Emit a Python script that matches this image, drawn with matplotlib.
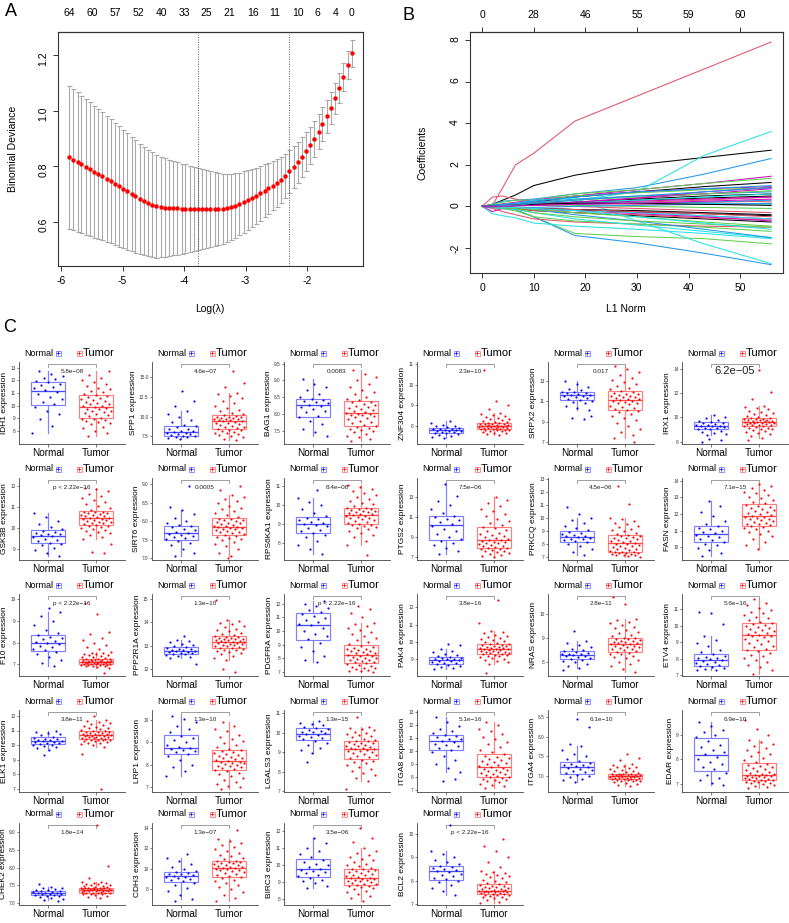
import numpy as np
import matplotlib
matplotlib.use("Agg")
import matplotlib.pyplot as plt
from matplotlib.transforms import blended_transform_factory

plt.rcParams['font.family'] = ['Liberation Sans', 'DejaVu Sans']
plt.rcParams['axes.unicode_minus'] = False

# ---------------- Panel A : cross-validation curve ----------------
A_LOG_LAMBDA = [-5.87, -5.80, -5.73, -5.67, -5.60, -5.53, -5.46, -5.40, -5.33, -5.26,
                -5.19, -5.13, -5.06, -4.99, -4.92, -4.85, -4.79, -4.72, -4.65, -4.58,
                -4.52, -4.45, -4.38, -4.31, -4.25, -4.18, -4.11, -4.04, -3.98, -3.91,
                -3.84, -3.77, -3.71, -3.64, -3.57, -3.50, -3.44, -3.37, -3.30, -3.23,
                -3.17, -3.10, -3.03, -2.96, -2.90, -2.83, -2.76, -2.69, -2.63, -2.56,
                -2.49, -2.42, -2.36, -2.29, -2.22, -2.15, -2.08, -2.02, -1.95, -1.88,
                -1.81, -1.75, -1.68, -1.61, -1.54, -1.48, -1.41, -1.34, -1.27]
A_CVM = [0.832, 0.824, 0.815, 0.807, 0.798, 0.790, 0.781, 0.773, 0.764, 0.755,
         0.746, 0.737, 0.728, 0.719, 0.710, 0.701, 0.692, 0.683, 0.675, 0.668,
         0.662, 0.657, 0.654, 0.652, 0.651, 0.650, 0.649, 0.648, 0.648, 0.647,
         0.647, 0.646, 0.646, 0.646, 0.646, 0.646, 0.647, 0.648, 0.650, 0.654,
         0.659, 0.665, 0.672, 0.679, 0.687, 0.695, 0.703, 0.712, 0.721, 0.731,
         0.741, 0.752, 0.765, 0.782, 0.798, 0.815, 0.834, 0.854, 0.876, 0.899,
         0.924, 0.951, 0.980, 1.011, 1.044, 1.081, 1.121, 1.163, 1.206]
A_SE = [0.258, 0.254, 0.251, 0.247, 0.244, 0.240, 0.237, 0.233, 0.230, 0.226,
        0.223, 0.219, 0.216, 0.212, 0.209, 0.205, 0.202, 0.198, 0.195, 0.191,
        0.188, 0.185, 0.181, 0.177, 0.173, 0.170, 0.166, 0.162, 0.159, 0.155,
        0.151, 0.148, 0.144, 0.140, 0.136, 0.133, 0.129, 0.126, 0.122, 0.119,
        0.116, 0.113, 0.110, 0.107, 0.104, 0.101, 0.098, 0.095, 0.092, 0.089,
        0.086, 0.083, 0.080, 0.077, 0.075, 0.073, 0.071, 0.069, 0.067, 0.065,
        0.063, 0.061, 0.059, 0.057, 0.055, 0.053, 0.051, 0.050, 0.048]
A_VLINES = [-3.77, -2.29]
A_TOP_X = [-5.87, -5.50, -5.12, -4.75, -4.37, -4.00, -3.64, -3.27, -2.88, -2.52, -2.15, -1.84, -1.54, -1.27]
A_TOP_N = [64, 60, 57, 52, 40, 33, 25, 21, 16, 11, 10, 6, 4, 0]

# ---------------- Panel B : coefficient paths ----------------
B_L1 = [0, 2, 4, 6.5, 10, 18, 30, 43, 56]
B_COEF = [
    [0, 0.1, 0.3, 0.55, 1.0, 1.5, 2.0, 2.35, 2.7],
    [0, 0.05, 0.9, 2.0, 2.55, 4.1, 5.3, 6.6, 7.9],
    [0, -0.05, -0.1, -0.2, -0.5, -1.3, -1.45, -1.55, -1.8],
    [0, 0.1, 0.25, 0.3, 0.35, 0.6, 0.9, 1.55, 2.3],
    [0, 0.05, 0.08, 0.1, 0.1, 0.3, 0.7, 2.45, 3.6],
    [0, -0.25, -0.1, 0.05, 0.2, 0.5, 0.8, 1.1, 1.45],
    [0, 0.05, 0.08, 0.12, 0.2, 0.45, 0.7, 0.95, 1.15],
    [0, 0.45, 0.5, 0.35, 0.2, 0.15, 0.1, 0.1, 0.15],
    [0, 0.1, 0.2, 0.3, 0.3, 0.6, 0.8, 1.1, 1.35],
    [0, -0.05, -0.08, -0.15, -0.5, -1.4, -1.75, -2.25, -2.8],
    [0, -0.35, -0.45, -0.55, -0.8, -0.95, -1.1, -1.3, -1.55],
    [0, 0.05, 0.12, 0.2, 0.3, 0.5, 0.7, 0.85, 0.95],
    [0, -0.05, -0.08, -0.1, -0.2, -0.3, -0.45, -0.6, -0.75],
    [0, -0.1, -0.25, -0.4, -0.6, -0.75, -0.85, -0.95, -1.0],
    [0, 0.05, 0.08, 0.12, 0.25, 0.5, 0.65, 0.8, 0.9],
    [0, 0.05, 0.08, 0.12, 0.2, 0.35, 0.5, 0.6, 0.7],
    [0, 0.05, 0.1, 0.15, 0.3, 0.4, -0.7, -1.8, -2.75],
    [0, -0.05, -0.07, -0.1, -0.15, -0.2, -0.3, -0.45, -0.6],
    [0, 0.02, 0.04, 0.05, 0.1, 0.2, 0.35, 0.5, 0.6],
    [0, 0.02, 0.04, 0.05, 0.1, 0.15, 0.2, 0.3, 0.45],
    [0, -0.05, -0.12, -0.2, -0.5, -0.7, -0.85, -1.0, -1.2],
    [0, 0.05, 0.1, 0.15, 0.25, 0.45, 0.7, 0.85, 1.0],
    [0, -0.05, -0.1, -0.15, -0.3, -0.6, -0.9, -1.2, -1.5],
    [0, 0.02, 0.04, 0.05, 0.1, 0.2, 0.4, 0.6, 0.85],
    [0, -0.02, -0.04, -0.05, -0.1, -0.15, -0.2, -0.3, -0.4],
    [0, -0.02, -0.06, -0.1, -0.2, -0.3, -0.4, -0.55, -0.65],
    [0, 0.02, 0.04, 0.05, 0.15, 0.3, 0.45, 0.6, 0.75],
    [0, -0.02, -0.04, -0.05, -0.15, -0.4, -0.7, -1.1, -1.5],
    [0, 0.02, 0.04, 0.05, 0.1, 0.15, 0.2, 0.15, 0.1],
    [0, -0.02, -0.04, -0.05, -0.1, -0.2, -0.35, -0.5, -0.7],
    [0, 0.02, 0.04, 0.05, 0.1, 0.2, 0.3, 0.4, 0.5],
    [0, 0.02, 0.04, 0.05, 0.1, 0.12, 0.15, 0.2, 0.25],
    [0, -0.02, -0.06, -0.1, -0.3, -0.5, -0.7, -0.85, -1.0],
    [0, 0.02, 0.02, 0.03, 0.05, 0.1, 0.15, 0.2, 0.3],
    [0, -0.02, -0.04, -0.05, -0.1, -0.2, -0.3, -0.45, -0.6],
    [0, 0.02, 0.04, 0.05, 0.1, 0.15, 0.25, 0.35, 0.45],
    [0, -0.02, -0.04, -0.05, -0.1, -0.15, -0.25, -0.35, -0.45],
    [0, 0.02, 0.04, 0.05, 0.05, 0.0, -0.1, -0.2, -0.3],
    [0, 0.02, 0.04, 0.05, 0.1, 0.05, 0.0, -0.05, -0.1],
    [0, -0.02, -0.04, -0.05, -0.05, 0.0, 0.05, 0.1, 0.15],
    [0, 0.02, 0.04, 0.05, 0.1, 0.2, 0.3, 0.45, 0.6],
    [0, 0.02, 0.04, 0.05, 0.1, 0.2, 0.4, 0.7, 0.9],
    [0, 0.02, 0.04, 0.05, 0.1, 0.15, 0.15, 0.1, 0.05],
    [0, -0.02, -0.04, -0.05, -0.1, -0.15, -0.25, -0.35, -0.5],
    [0, 0.0, -0.02, -0.05, -0.15, -0.3, -0.5, -0.75, -0.95],
    [0, 0.02, 0.04, 0.05, 0.15, 0.3, 0.5, 0.7, 0.9],
    [0, -0.02, -0.04, -0.05, -0.1, -0.2, -0.5, -0.8, -1.1],
    [0, 0.0, 0.01, 0.02, 0.05, 0.1, 0.15, 0.25, 0.35],
]
B_TOP_X = [0, 10, 20, 30, 40, 50]
B_TOP_N = [0, 28, 46, 55, 59, 60]

# ---------------- Panel C : expression box plots ----------------
GENES = ["IDH1", "SPP1", "BAG1", "ZNF304", "SRPX2", "IRX1",
         "GSK3B", "SIRT6", "RPS6KA1", "PTGS2", "PRKCQ", "FASN",
         "F10", "PPP2R1A", "PDGFRA", "PAK4", "NRAS", "ETV4",
         "ELK1", "LRP1", "LGALS3", "ITGA8", "ITGA4", "EDAR",
         "CHEK2", "CDH3", "BIRC3", "BCL2"]
GROUPS = ["Normal", "Tumor"]
P_LABELS = ["5.8e\u221208", "4.6e\u221207", "0.0083", "2.3e\u221210", "0.017", "6.2e\u221205",
            "p < 2.22e\u221216", "0.0005", "8.4e\u221208", "7.5e\u221206", "4.5e\u221206", "7.1e\u221215",
            "p < 2.22e\u221216", "1.3e\u221210", "p < 2.22e\u221216", "3.8e\u221216", "2.8e\u221211", "5.6e\u221216",
            "3.8e\u221211", "1.3e\u221210", "1.3e\u221215", "5.1e\u221216", "6.1e\u221210", "6.9e\u221210",
            "1.8e\u221214", "1.3e\u221207", "3.5e\u221206", "p < 2.22e\u221216"]
# (whisker low, Q1, median, Q3, whisker high)
NORMAL_BOX = [(7.8, 10.05, 11.15, 11.9, 12.7), (7.2, 7.6, 8.1, 8.85, 10.7), (7.35, 7.92, 8.27, 8.45, 9.05),
              (7.4, 7.65, 7.76, 7.89, 8.2), (10.2, 11.1, 11.6, 11.9, 12.95), (8.5, 9.04, 9.3, 9.59, 10.2),
              (8.65, 9.25, 9.62, 9.89, 10.7), (7.05, 7.5, 7.67, 7.88, 8.3), (7.4, 8.52, 9.0, 9.36, 10.4),
              (7.3, 8.72, 10.2, 11.15, 14.3), (7.1, 8.16, 8.55, 8.95, 10.0), (9.45, 10.28, 10.8, 11.3, 12.8),
              (6.95, 7.62, 8.0, 8.36, 9.4), (12.45, 12.66, 12.78, 12.94, 13.25), (7.7, 9.33, 10.45, 11.28, 12.2),
              (8.45, 8.75, 8.98, 9.14, 9.6), (7.75, 8.11, 8.29, 8.44, 8.85), (7.3, 7.58, 7.95, 8.3, 9.4),
              (9.7, 10.06, 10.27, 10.53, 11.0), (7.5, 8.46, 8.77, 9.34, 10.2), (8.95, 9.64, 9.96, 10.22, 10.6),
              (8.4, 10.05, 10.75, 11.25, 12.6), (6.85, 7.05, 7.22, 7.35, 7.75), (6.95, 7.55, 8.16, 8.85, 9.5),
              (7.1, 7.22, 7.28, 7.35, 7.45), (7.0, 8.7, 9.27, 9.7, 11.0), (8.65, 9.32, 9.76, 10.4, 11.6),
              (7.4, 8.04, 8.4, 8.64, 9.25)]
TUMOR_BOX = [(7.55, 9.0, 9.9, 10.8, 12.7), (7.0, 8.4, 9.5, 10.2, 13.0), (7.2, 7.65, 8.02, 8.37, 9.3),
             (7.55, 7.82, 7.97, 8.14, 8.6), (7.4, 10.15, 11.17, 11.97, 14.5), (8.3, 9.26, 9.6, 9.92, 10.9),
             (9.45, 10.13, 10.47, 10.8, 11.9), (7.05, 7.64, 7.85, 8.08, 8.7), (7.9, 9.0, 9.5, 9.88, 11.1),
             (7.0, 7.92, 8.7, 10.05, 13.0), (7.0, 7.37, 8.03, 8.66, 10.0), (9.9, 11.28, 11.85, 12.6, 13.8),
             (6.85, 7.02, 7.12, 7.25, 7.55), (12.4, 12.9, 13.17, 13.4, 14.1), (7.0, 7.65, 8.25, 8.95, 10.6),
             (8.75, 9.3, 9.6, 9.9, 10.65), (7.55, 8.4, 8.73, 9.01, 9.8), (7.1, 8.55, 9.45, 10.17, 11.6),
             (9.9, 10.39, 10.67, 10.97, 11.7), (6.9, 7.77, 8.17, 8.66, 9.9), (7.5, 8.65, 9.17, 9.6, 10.3),
             (7.2, 8.05, 8.77, 9.8, 12.2), (6.75, 6.92, 7.0, 7.06, 7.3), (6.85, 7.17, 7.37, 7.85, 8.8),
             (7.15, 7.3, 7.38, 7.43, 7.6), (6.8, 9.2, 10.1, 10.77, 12.9), (7.9, 8.84, 9.26, 9.8, 11.0),
             (7.05, 7.43, 7.57, 7.85, 8.4)]
NORMAL_PTS = [
    [7.8, 8.4, 8.9, 9.3, 9.6, 9.9, 10.1, 10.3, 10.5, 10.7, 10.9, 11.1, 11.2, 11.35, 11.5, 11.6, 11.7, 11.85, 11.95, 12.1, 12.2, 12.35, 12.5, 12.7],
    [7.2, 7.3, 7.4, 7.45, 7.5, 7.55, 7.65, 7.75, 7.85, 7.9, 8.0, 8.05, 8.15, 8.25, 8.4, 8.5, 8.65, 8.8, 9.0, 9.3, 9.6, 9.9, 10.3, 10.7, 11.4, 12.0, 13.2],
    [7.35, 7.45, 7.55, 7.7, 7.8, 7.9, 7.95, 8.05, 8.1, 8.15, 8.2, 8.25, 8.28, 8.32, 8.35, 8.38, 8.42, 8.44, 8.5, 8.6, 8.7, 8.8, 8.9, 9.05],
    [7.4, 7.45, 7.5, 7.55, 7.6, 7.63, 7.66, 7.68, 7.7, 7.72, 7.74, 7.75, 7.77, 7.79, 7.81, 7.83, 7.85, 7.88, 7.92, 7.96, 8.0, 8.05, 8.12, 8.2],
    [10.2, 10.4, 10.6, 10.8, 10.95, 11.05, 11.15, 11.25, 11.35, 11.45, 11.5, 11.55, 11.62, 11.67, 11.72, 11.78, 11.83, 11.88, 11.95, 12.1, 12.25, 12.45, 12.7, 12.95, 9.3, 9.4, 9.6],
    [8.5, 8.6, 8.7, 8.8, 8.9, 9.0, 9.06, 9.1, 9.15, 9.2, 9.25, 9.28, 9.32, 9.36, 9.4, 9.45, 9.5, 9.55, 9.62, 9.7, 9.8, 9.9, 10.05, 10.2, 8.0, 8.1, 8.2],
    [8.65, 8.8, 8.95, 9.05, 9.15, 9.22, 9.28, 9.35, 9.42, 9.48, 9.55, 9.6, 9.64, 9.68, 9.72, 9.77, 9.82, 9.87, 9.95, 10.05, 10.2, 10.35, 10.5, 10.7],
    [7.05, 7.15, 7.25, 7.35, 7.42, 7.47, 7.52, 7.55, 7.58, 7.61, 7.63, 7.66, 7.69, 7.72, 7.75, 7.79, 7.83, 7.86, 7.9, 7.95, 8.0, 8.1, 8.2, 8.3, 8.38, 8.95],
    [7.4, 7.7, 7.9, 8.1, 8.3, 8.45, 8.55, 8.62, 8.7, 8.8, 8.88, 8.95, 9.03, 9.08, 9.13, 9.2, 9.27, 9.33, 9.45, 9.6, 9.8, 10.0, 10.2, 10.4, 10.8],
    [7.3, 7.6, 7.9, 8.2, 8.45, 8.65, 8.8, 9.0, 9.3, 9.6, 9.85, 10.1, 10.3, 10.5, 10.7, 10.85, 11.0, 11.1, 11.4, 11.8, 12.2, 12.6, 13.1, 14.3],
    [7.1, 7.4, 7.6, 7.8, 7.95, 8.1, 8.2, 8.27, 8.33, 8.4, 8.45, 8.5, 8.58, 8.63, 8.68, 8.75, 8.82, 8.9, 9.05, 9.2, 9.4, 9.6, 9.8, 10.0, 10.3, 10.8],
    [9.45, 9.65, 9.8, 9.95, 10.1, 10.2, 10.32, 10.4, 10.5, 10.6, 10.68, 10.75, 10.85, 10.92, 11.0, 11.08, 11.17, 11.26, 11.4, 11.6, 11.85, 12.1, 12.45, 12.8],
    [6.95, 7.05, 7.2, 7.35, 7.48, 7.58, 7.65, 7.72, 7.79, 7.86, 7.92, 7.98, 8.03, 8.09, 8.15, 8.21, 8.27, 8.33, 8.45, 8.6, 8.8, 9.0, 9.2, 9.4, 9.6],
    [12.45, 12.5, 12.55, 12.59, 12.62, 12.65, 12.67, 12.69, 12.71, 12.73, 12.75, 12.77, 12.79, 12.81, 12.84, 12.87, 12.9, 12.93, 12.97, 13.02, 13.08, 13.13, 13.19, 13.25, 12.2, 13.4],
    [7.7, 7.9, 8.2, 8.5, 8.8, 9.1, 9.4, 9.6, 9.8, 10.0, 10.2, 10.4, 10.5, 10.65, 10.8, 10.95, 11.1, 11.25, 11.35, 11.5, 11.65, 11.8, 12.0, 12.2],
    [8.45, 8.5, 8.56, 8.62, 8.68, 8.73, 8.77, 8.81, 8.85, 8.89, 8.93, 8.96, 9.0, 9.02, 9.05, 9.07, 9.1, 9.13, 9.18, 9.25, 9.33, 9.42, 9.5, 9.6, 9.8, 9.9],
    [7.75, 7.82, 7.9, 7.97, 8.03, 8.08, 8.13, 8.16, 8.19, 8.22, 8.25, 8.28, 8.3, 8.32, 8.34, 8.37, 8.4, 8.43, 8.48, 8.55, 8.62, 8.7, 8.78, 8.85, 9.3, 7.65],
    [7.3, 7.35, 7.4, 7.45, 7.5, 7.55, 7.6, 7.66, 7.72, 7.78, 7.85, 7.92, 7.98, 8.03, 8.08, 8.14, 8.2, 8.27, 8.4, 8.55, 8.75, 8.95, 9.15, 9.4, 10.1, 10.8, 10.85],
    [9.7, 9.78, 9.85, 9.92, 9.98, 10.03, 10.08, 10.12, 10.16, 10.2, 10.23, 10.26, 10.29, 10.33, 10.37, 10.41, 10.45, 10.5, 10.58, 10.66, 10.74, 10.82, 10.9, 11.0, 9.35],
    [7.5, 7.7, 7.9, 8.0, 8.2, 8.4, 8.5, 8.55, 8.6, 8.65, 8.7, 8.75, 8.8, 8.9, 9.0, 9.1, 9.2, 9.3, 9.45, 9.6, 9.75, 9.9, 10.05, 10.2],
    [8.95, 9.1, 9.22, 9.35, 9.48, 9.58, 9.66, 9.72, 9.78, 9.84, 9.89, 9.94, 9.98, 10.02, 10.06, 10.1, 10.14, 10.19, 10.26, 10.32, 10.38, 10.45, 10.52, 10.6, 8.5],
    [8.4, 8.7, 9.0, 9.3, 9.6, 9.9, 10.1, 10.25, 10.35, 10.45, 10.55, 10.65, 10.8, 10.88, 10.95, 11.05, 11.12, 11.2, 11.35, 11.5, 11.7, 11.9, 12.2, 12.6, 7.9, 7.7],
    [6.85, 6.9, 6.94, 6.97, 7.0, 7.03, 7.07, 7.1, 7.13, 7.16, 7.19, 7.21, 7.23, 7.25, 7.27, 7.29, 7.31, 7.33, 7.38, 7.43, 7.5, 7.57, 7.65, 7.75, 7.8, 8.25, 8.45],
    [6.95, 7.05, 7.15, 7.25, 7.35, 7.45, 7.6, 7.7, 7.8, 7.9, 8.0, 8.1, 8.2, 8.3, 8.4, 8.5, 8.6, 8.75, 8.9, 9.0, 9.1, 9.2, 9.35, 9.5],
    [7.1, 7.13, 7.15, 7.17, 7.19, 7.21, 7.23, 7.24, 7.25, 7.26, 7.27, 7.28, 7.29, 7.3, 7.31, 7.32, 7.33, 7.34, 7.36, 7.38, 7.4, 7.42, 7.43, 7.45, 7.55, 7.05],
    [7.0, 7.4, 7.8, 8.1, 8.35, 8.55, 8.75, 8.85, 8.95, 9.05, 9.12, 9.2, 9.3, 9.36, 9.42, 9.5, 9.57, 9.65, 9.8, 10.0, 10.2, 10.45, 10.7, 11.0, 11.4, 6.8],
    [8.65, 8.8, 8.95, 9.05, 9.15, 9.25, 9.38, 9.45, 9.52, 9.6, 9.66, 9.72, 9.8, 9.9, 10.0, 10.1, 10.2, 10.32, 10.5, 10.65, 10.85, 11.05, 11.3, 11.6],
    [7.4, 7.55, 7.7, 7.82, 7.92, 8.0, 8.07, 8.12, 8.18, 8.24, 8.3, 8.36, 8.42, 8.46, 8.5, 8.54, 8.58, 8.62, 8.7, 8.8, 8.9, 9.0, 9.12, 9.25, 10.4],
]
TUMOR_PTS = [
    [7.6, 7.8, 8.0, 8.2, 8.3, 8.5, 8.6, 8.7, 8.8, 8.85, 8.9, 8.95, 9.05, 9.15, 9.25, 9.3, 9.4, 9.5, 9.55, 9.6, 9.7, 9.75, 9.8, 9.85, 9.95, 10.0, 10.1, 10.15, 10.2, 10.3, 10.35, 10.45, 10.5, 10.6, 10.7, 10.75, 10.85, 10.95, 11.05, 11.15, 11.3, 11.4, 11.55, 11.7, 11.85, 12.0, 12.2, 12.4, 12.7],
    [7.0, 7.2, 7.4, 7.6, 7.7, 7.8, 7.9, 8.0, 8.1, 8.2, 8.3, 8.35, 8.45, 8.55, 8.65, 8.75, 8.85, 8.95, 9.05, 9.15, 9.25, 9.3, 9.4, 9.45, 9.55, 9.6, 9.65, 9.7, 9.75, 9.8, 9.85, 9.9, 9.95, 10.0, 10.1, 10.15, 10.3, 10.5, 10.7, 10.9, 11.1, 11.4, 11.7, 12.0, 12.3, 12.6, 12.8, 13.0, 13.8, 14.2, 15.8],
    [7.2, 7.25, 7.3, 7.35, 7.4, 7.45, 7.5, 7.52, 7.55, 7.58, 7.6, 7.63, 7.68, 7.72, 7.76, 7.8, 7.84, 7.87, 7.9, 7.93, 7.96, 7.98, 8.0, 8.01, 8.04, 8.07, 8.1, 8.13, 8.16, 8.19, 8.22, 8.25, 8.28, 8.31, 8.34, 8.36, 8.4, 8.45, 8.5, 8.58, 8.65, 8.72, 8.8, 8.9, 9.0, 9.1, 9.2, 9.3],
    [7.55, 7.6, 7.63, 7.66, 7.69, 7.72, 7.74, 7.76, 7.78, 7.79, 7.8, 7.81, 7.83, 7.85, 7.86, 7.88, 7.89, 7.9, 7.92, 7.93, 7.94, 7.95, 7.96, 7.97, 7.98, 7.99, 8.0, 8.02, 8.03, 8.05, 8.06, 8.08, 8.09, 8.1, 8.12, 8.13, 8.16, 8.19, 8.22, 8.26, 8.3, 8.34, 8.38, 8.42, 8.46, 8.5, 8.55, 8.6, 8.8, 9.0, 9.2, 10.7],
    [7.4, 7.7, 8.0, 8.3, 8.6, 8.9, 9.2, 9.4, 9.6, 9.8, 9.95, 10.1, 10.2, 10.3, 10.4, 10.5, 10.6, 10.7, 10.8, 10.85, 10.95, 11.0, 11.05, 11.1, 11.2, 11.25, 11.3, 11.4, 11.45, 11.5, 11.55, 11.6, 11.7, 11.75, 11.85, 11.95, 12.05, 12.2, 12.35, 12.5, 12.7, 12.9, 13.1, 13.3, 13.6, 13.9, 14.2, 14.5, 7.0],
    [8.3, 8.45, 8.6, 8.7, 8.8, 8.9, 8.95, 9.0, 9.05, 9.1, 9.15, 9.2, 9.28, 9.31, 9.34, 9.37, 9.4, 9.43, 9.46, 9.49, 9.52, 9.54, 9.56, 9.58, 9.62, 9.65, 9.67, 9.7, 9.73, 9.75, 9.78, 9.8, 9.83, 9.85, 9.88, 9.9, 9.95, 10.0, 10.1, 10.15, 10.25, 10.35, 10.45, 10.55, 10.65, 10.75, 10.85, 10.9, 11.5, 12.1, 13.9, 8.1],
    [9.45, 9.55, 9.65, 9.75, 9.8, 9.85, 9.9, 9.95, 10.0, 10.05, 10.08, 10.11, 10.15, 10.18, 10.21, 10.24, 10.27, 10.3, 10.33, 10.36, 10.39, 10.42, 10.44, 10.46, 10.49, 10.52, 10.55, 10.58, 10.6, 10.63, 10.66, 10.69, 10.72, 10.74, 10.76, 10.78, 10.85, 10.95, 11.05, 11.15, 11.25, 11.35, 11.45, 11.55, 11.65, 11.75, 11.85, 11.9, 8.8, 8.85, 9.2],
    [7.05, 7.15, 7.25, 7.32, 7.38, 7.43, 7.48, 7.52, 7.55, 7.58, 7.61, 7.63, 7.66, 7.68, 7.7, 7.72, 7.74, 7.76, 7.78, 7.8, 7.81, 7.82, 7.83, 7.84, 7.86, 7.88, 7.9, 7.92, 7.94, 7.96, 7.98, 8.0, 8.02, 8.04, 8.06, 8.07, 8.12, 8.17, 8.22, 8.27, 8.32, 8.37, 8.42, 8.48, 8.54, 8.6, 8.65, 8.7, 8.85, 8.95, 7.0],
    [7.9, 8.1, 8.3, 8.45, 8.55, 8.65, 8.72, 8.78, 8.84, 8.9, 8.95, 8.98, 9.03, 9.08, 9.13, 9.18, 9.22, 9.27, 9.31, 9.35, 9.39, 9.43, 9.46, 9.49, 9.52, 9.56, 9.6, 9.63, 9.66, 9.69, 9.72, 9.75, 9.78, 9.81, 9.84, 9.87, 9.95, 10.05, 10.15, 10.25, 10.35, 10.45, 10.55, 10.65, 10.75, 10.85, 10.95, 11.1, 7.35],
    [7.0, 7.1, 7.2, 7.3, 7.4, 7.5, 7.6, 7.65, 7.7, 7.78, 7.85, 7.9, 7.95, 8.0, 8.08, 8.15, 8.22, 8.3, 8.37, 8.43, 8.5, 8.56, 8.62, 8.68, 8.75, 8.85, 8.95, 9.05, 9.15, 9.25, 9.35, 9.45, 9.6, 9.75, 9.9, 10.0, 10.2, 10.4, 10.6, 10.85, 11.1, 11.35, 11.6, 11.85, 12.1, 12.4, 12.7, 13.0],
    [7.0, 7.05, 7.1, 7.13, 7.16, 7.2, 7.23, 7.26, 7.29, 7.32, 7.34, 7.36, 7.4, 7.45, 7.5, 7.56, 7.62, 7.68, 7.74, 7.8, 7.86, 7.92, 7.97, 8.01, 8.06, 8.12, 8.18, 8.24, 8.3, 8.36, 8.42, 8.47, 8.52, 8.57, 8.61, 8.65, 8.75, 8.85, 8.95, 9.05, 9.15, 9.3, 9.4, 9.5, 9.6, 9.75, 9.9, 10.0, 11.05, 12.4],
    [9.9, 10.1, 10.3, 10.5, 10.65, 10.8, 10.9, 11.0, 11.08, 11.15, 11.2, 11.25, 11.32, 11.37, 11.42, 11.47, 11.52, 11.57, 11.62, 11.67, 11.72, 11.76, 11.8, 11.83, 11.9, 11.96, 12.02, 12.08, 12.14, 12.2, 12.26, 12.32, 12.38, 12.44, 12.5, 12.56, 12.65, 12.75, 12.85, 12.95, 13.05, 13.15, 13.25, 13.35, 13.45, 13.55, 13.68, 13.8],
    [6.85, 6.88, 6.91, 6.93, 6.95, 6.96, 6.97, 6.98, 6.99, 7.0, 7.01, 7.02, 7.03, 7.04, 7.05, 7.06, 7.07, 7.08, 7.09, 7.1, 7.1, 7.11, 7.12, 7.12, 7.13, 7.14, 7.15, 7.16, 7.17, 7.18, 7.19, 7.2, 7.21, 7.22, 7.23, 7.24, 7.27, 7.3, 7.33, 7.36, 7.39, 7.42, 7.45, 7.48, 7.5, 7.52, 7.54, 7.55, 7.7, 7.8, 7.9, 8.0, 8.1, 8.2, 8.4, 8.5, 9.3, 9.8, 6.6],
    [12.4, 12.48, 12.55, 12.62, 12.68, 12.73, 12.77, 12.8, 12.83, 12.86, 12.88, 12.9, 12.93, 12.96, 12.99, 13.02, 13.04, 13.06, 13.08, 13.1, 13.12, 13.14, 13.15, 13.16, 13.18, 13.2, 13.22, 13.24, 13.26, 13.28, 13.3, 13.32, 13.34, 13.36, 13.38, 13.4, 13.45, 13.5, 13.55, 13.6, 13.66, 13.72, 13.78, 13.84, 13.9, 13.96, 14.03, 14.1, 14.95, 11.85, 12.0],
    [7.0, 7.05, 7.1, 7.15, 7.2, 7.25, 7.3, 7.35, 7.4, 7.48, 7.55, 7.62, 7.7, 7.75, 7.8, 7.85, 7.9, 7.95, 8.0, 8.05, 8.1, 8.15, 8.2, 8.23, 8.3, 8.35, 8.4, 8.45, 8.5, 8.55, 8.6, 8.65, 8.7, 8.78, 8.85, 8.92, 9.05, 9.2, 9.35, 9.5, 9.65, 9.8, 9.95, 10.1, 10.2, 10.35, 10.5, 10.6, 11.0, 11.3, 11.6, 11.8],
    [8.75, 8.85, 8.92, 8.98, 9.04, 9.1, 9.14, 9.18, 9.22, 9.25, 9.27, 9.29, 9.32, 9.35, 9.37, 9.4, 9.42, 9.45, 9.47, 9.5, 9.52, 9.55, 9.57, 9.59, 9.62, 9.64, 9.66, 9.68, 9.7, 9.72, 9.75, 9.77, 9.8, 9.83, 9.86, 9.89, 9.95, 10.0, 10.06, 10.12, 10.18, 10.24, 10.3, 10.36, 10.42, 10.5, 10.58, 10.65, 11.1, 12.4, 8.2],
    [7.55, 7.7, 7.82, 7.92, 8.0, 8.08, 8.15, 8.2, 8.25, 8.3, 8.34, 8.38, 8.42, 8.45, 8.48, 8.51, 8.54, 8.57, 8.6, 8.63, 8.65, 8.67, 8.7, 8.72, 8.75, 8.77, 8.8, 8.82, 8.84, 8.86, 8.88, 8.9, 8.93, 8.95, 8.97, 9.0, 9.06, 9.12, 9.18, 9.25, 9.32, 9.39, 9.46, 9.53, 9.6, 9.67, 9.74, 9.8, 10.4, 10.7],
    [7.1, 7.3, 7.5, 7.65, 7.8, 7.95, 8.05, 8.15, 8.25, 8.35, 8.45, 8.52, 8.6, 8.7, 8.8, 8.9, 8.98, 9.06, 9.14, 9.22, 9.3, 9.36, 9.41, 9.44, 9.5, 9.56, 9.62, 9.68, 9.74, 9.8, 9.86, 9.92, 9.98, 10.04, 10.1, 10.15, 10.25, 10.35, 10.45, 10.55, 10.65, 10.75, 10.85, 10.95, 11.1, 11.25, 11.4, 11.6],
    [9.9, 9.98, 10.05, 10.12, 10.18, 10.23, 10.27, 10.3, 10.33, 10.35, 10.37, 10.38, 10.41, 10.44, 10.47, 10.5, 10.52, 10.55, 10.57, 10.59, 10.61, 10.63, 10.65, 10.66, 10.69, 10.72, 10.74, 10.77, 10.79, 10.82, 10.84, 10.87, 10.89, 10.92, 10.94, 10.96, 11.02, 11.08, 11.14, 11.2, 11.26, 11.32, 11.38, 11.44, 11.5, 11.56, 11.63, 11.7, 12.0, 9.4, 7.0],
    [6.9, 6.98, 7.06, 7.14, 7.22, 7.3, 7.4, 7.5, 7.58, 7.64, 7.7, 7.75, 7.8, 7.84, 7.88, 7.92, 7.96, 8.0, 8.03, 8.06, 8.09, 8.12, 8.14, 8.16, 8.2, 8.24, 8.28, 8.32, 8.36, 8.4, 8.44, 8.48, 8.52, 8.56, 8.6, 8.64, 8.72, 8.8, 8.88, 8.96, 9.05, 9.15, 9.25, 9.35, 9.5, 9.6, 9.75, 9.9],
    [7.5, 7.65, 7.8, 7.92, 8.04, 8.15, 8.25, 8.35, 8.43, 8.5, 8.56, 8.62, 8.68, 8.74, 8.8, 8.85, 8.9, 8.95, 9.0, 9.04, 9.08, 9.11, 9.14, 9.16, 9.2, 9.24, 9.27, 9.3, 9.34, 9.38, 9.41, 9.45, 9.48, 9.52, 9.55, 9.58, 9.64, 9.7, 9.76, 9.82, 9.88, 9.94, 10.0, 10.06, 10.12, 10.18, 10.24, 10.3, 10.8, 7.1],
    [7.2, 7.3, 7.4, 7.5, 7.6, 7.68, 7.75, 7.82, 7.88, 7.94, 7.98, 8.02, 8.1, 8.16, 8.22, 8.28, 8.34, 8.4, 8.46, 8.52, 8.58, 8.64, 8.7, 8.75, 8.82, 8.9, 8.98, 9.06, 9.14, 9.22, 9.3, 9.38, 9.46, 9.55, 9.65, 9.75, 9.9, 10.1, 10.3, 10.5, 10.7, 10.9, 11.1, 11.3, 11.5, 11.7, 11.95, 12.2],
    [6.75, 6.78, 6.81, 6.83, 6.85, 6.87, 6.88, 6.89, 6.9, 6.91, 6.915, 6.92, 6.93, 6.94, 6.945, 6.95, 6.96, 6.965, 6.97, 6.98, 6.985, 6.99, 6.995, 7.0, 7.005, 7.01, 7.015, 7.02, 7.025, 7.03, 7.035, 7.04, 7.045, 7.05, 7.055, 7.06, 7.08, 7.1, 7.12, 7.14, 7.16, 7.18, 7.2, 7.22, 7.24, 7.26, 7.28, 7.3, 7.4, 7.45, 7.55],
    [6.85, 6.9, 6.94, 6.97, 7.0, 7.03, 7.06, 7.08, 7.1, 7.12, 7.14, 7.16, 7.18, 7.2, 7.22, 7.24, 7.26, 7.28, 7.3, 7.31, 7.33, 7.34, 7.35, 7.36, 7.39, 7.42, 7.46, 7.5, 7.54, 7.58, 7.62, 7.66, 7.7, 7.74, 7.78, 7.82, 7.9, 7.98, 8.06, 8.14, 8.22, 8.3, 8.38, 8.46, 8.54, 8.62, 8.7, 8.8, 9.0, 9.25, 9.6],
    [7.15, 7.18, 7.21, 7.23, 7.25, 7.26, 7.27, 7.28, 7.29, 7.29, 7.3, 7.3, 7.31, 7.32, 7.33, 7.33, 7.34, 7.35, 7.35, 7.36, 7.37, 7.37, 7.38, 7.38, 7.39, 7.39, 7.4, 7.4, 7.41, 7.41, 7.42, 7.42, 7.42, 7.43, 7.43, 7.43, 7.45, 7.46, 7.47, 7.48, 7.5, 7.51, 7.53, 7.54, 7.56, 7.57, 7.59, 7.6, 7.7, 8.05, 9.2],
    [6.8, 7.1, 7.4, 7.7, 7.95, 8.2, 8.4, 8.6, 8.75, 8.9, 9.02, 9.12, 9.28, 9.38, 9.48, 9.58, 9.66, 9.74, 9.82, 9.9, 9.96, 10.0, 10.04, 10.08, 10.14, 10.2, 10.26, 10.32, 10.38, 10.44, 10.5, 10.55, 10.6, 10.65, 10.7, 10.75, 10.9, 11.05, 11.2, 11.35, 11.5, 11.7, 11.9, 12.1, 12.3, 12.5, 12.7, 12.9, 13.8],
    [7.9, 8.05, 8.2, 8.32, 8.42, 8.5, 8.58, 8.64, 8.7, 8.75, 8.79, 8.82, 8.87, 8.92, 8.96, 9.0, 9.04, 9.08, 9.12, 9.15, 9.18, 9.21, 9.23, 9.25, 9.3, 9.35, 9.4, 9.45, 9.5, 9.55, 9.6, 9.64, 9.68, 9.72, 9.76, 9.79, 9.86, 9.94, 10.02, 10.1, 10.2, 10.3, 10.4, 10.5, 10.6, 10.7, 10.85, 11.0, 11.4, 11.6, 12.2],
    [7.05, 7.1, 7.15, 7.2, 7.24, 7.28, 7.31, 7.34, 7.36, 7.38, 7.4, 7.42, 7.44, 7.46, 7.48, 7.49, 7.5, 7.51, 7.52, 7.53, 7.54, 7.55, 7.56, 7.57, 7.59, 7.61, 7.63, 7.65, 7.67, 7.69, 7.71, 7.73, 7.75, 7.78, 7.81, 7.84, 7.89, 7.94, 7.99, 8.04, 8.09, 8.14, 8.19, 8.24, 8.28, 8.32, 8.36, 8.4, 8.6, 8.8, 9.0, 9.25, 9.5, 9.8],
]
Y_RANGE = [(6.95, 13.45), (6.55, 16.9), (7.1, 9.55), (7.1, 11.1), (6.84, 14.85), (7.8, 14.55),
           (8.45, 12.4), (6.95, 9.17), (7.1, 11.45), (6.7, 14.95), (6.75, 13.05), (9.22, 14.17),
           (6.47, 10.23), (11.7, 15.2), (6.7, 12.7), (8.05, 12.75), (7.4, 10.83), (6.96, 11.93),
           (6.8, 12.4), (6.77, 10.46), (6.95, 11.17), (6.87, 13.13), (6.6, 8.67), (6.68, 10.0),
           (6.95, 9.25), (6.4, 14.5), (7.65, 12.5), (6.95, 10.47)]
Y_TICKS = [[8, 9, 10, 11, 12, 13], [7.5, 10.0, 12.5, 15.0], [7.5, 8.0, 8.5, 9.0, 9.5], [8, 9, 10, 11],
           [7, 9, 11, 13], [8, 10, 12, 14], [9, 10, 11, 12], [7.0, 7.5, 8.0, 8.5, 9.0],
           [8, 9, 10, 11], [7, 9, 11, 13], [7, 8, 9, 10, 11, 12, 13], [10, 11, 12, 13, 14],
           [7, 8, 9, 10], [12, 13, 14, 15], [7, 8, 9, 10, 11, 12], [9, 10, 11, 12],
           [8, 9, 10], [7, 8, 9, 10, 11], [7, 8, 9, 10, 11, 12], [7, 8, 9, 10],
           [7, 8, 9, 10, 11], [7, 8, 9, 10, 11, 12, 13], [7.0, 7.5, 8.0, 8.5], [7, 8, 9],
           [7.0, 7.5, 8.0, 8.5, 9.0], [8, 10, 12, 14], [8, 9, 10, 11, 12], [7, 8, 9, 10]]

# ---------------- styles / layout ----------------
W, H = 789, 923
R_PALETTE = ['#000000', '#DF536B', '#61D04F', '#2297E6', '#28E2E5', '#CD0BBC']
N_PT, T_PT = '#0000ff', '#ff0000'
N_EDGE, T_EDGE = '#7f7fff', '#ff7f7f'
N_MED, T_MED = '#4a4aff', '#ff4a4a'
C_COL_LEFT = [19, 152, 284, 417, 548, 682]
C_ROW_TOP = [362, 478, 594, 710, 823]
C_W, C_H = 106, 82

fig = plt.figure(figsize=(W / 100, H / 100), dpi=100)
fig.patch.set_facecolor('white')


def px_axes(l, t, r, b):
    return fig.add_axes([l / W, 1 - b / H, (r - l) / W, (b - t) / H])


def r_style(ax):
    for s in ax.spines.values():
        s.set_color('#333333')
        s.set_linewidth(0.8)
    ax.tick_params(direction='out', length=3.6, width=0.7, color='#333333',
                   labelsize=7.5, pad=3.5)
    ax.tick_params(axis='y', labelrotation=90)


# ---- Panel A ----
axA = px_axes(58, 32, 363, 266)
axA.errorbar(A_LOG_LAMBDA, A_CVM, yerr=A_SE, fmt='none', ecolor='#a9a9a9',
             elinewidth=0.8, capsize=1.8, capthick=0.8, zorder=1)
axA.plot(A_LOG_LAMBDA, A_CVM, 'o', color='#ff0000', ms=3.2, mec='none', zorder=3)
for v in A_VLINES:
    axA.axvline(v, color='#555555', lw=0.7, ls=(0, (1, 1.5)), zorder=2)
axA.set_xlim(-6.05, -1.09)
axA.set_ylim(0.442, 1.283)
axA.set_xticks([-6, -5, -4, -3, -2])
axA.set_yticks([0.6, 0.8, 1.0, 1.2])
axA.set_yticklabels(['0.6', '0.8', '1.0', '1.2'])
r_style(axA)
topA = axA.secondary_xaxis('top')
topA.set_xticks(A_TOP_X)
topA.set_xticklabels([str(n) for n in A_TOP_N])
topA.tick_params(length=0, labelsize=7.5, pad=10)
fig.text(210 / W, 1 - 309 / H, 'Log(\u03bb)', ha='center', va='center', fontsize=7.5)
fig.text(13 / W, 1 - 149 / H, 'Binomial Deviance', ha='center', va='center',
         rotation=90, fontsize=7.5)

# ---- Panel B ----
axB = px_axes(470, 32, 783, 273)
for i, coef in enumerate(B_COEF):
    axB.plot(B_L1, coef, color=R_PALETTE[i % 6], lw=0.75)
axB.set_xlim(-2.33, 58.3)
axB.set_ylim(-3.2, 8.38)
axB.set_xticks([0, 10, 20, 30, 40, 50])
axB.set_yticks([-2, 0, 2, 4, 6, 8])
r_style(axB)
topB = axB.secondary_xaxis('top')
topB.set_xticks(B_TOP_X)
topB.set_xticklabels([str(n) for n in B_TOP_N])
topB.tick_params(length=3.6, width=0.7, color='#333333', labelsize=7.5, pad=5)
fig.text(626 / W, 1 - 309 / H, 'L1 Norm', ha='center', va='center', fontsize=7.5)
fig.text(423 / W, 1 - 153 / H, 'Coefficients', ha='center', va='center',
         rotation=90, fontsize=7.5)

# panel letters
fig.text(5 / W, 1 - 12 / H, 'A', ha='left', va='center', fontsize=13)
fig.text(402 / W, 1 - 15 / H, 'B', ha='left', va='center', fontsize=13)
fig.text(3 / W, 1 - 328 / H, 'C', ha='left', va='center', fontsize=13)


# ---- Panel C ----
def jitter(n, center, k):
    i = np.arange(n)
    f = (i * 0.6180339887 + 0.237 * k) % 1.0
    return center + (f - 0.5) * 0.64


def tick_text(ticks):
    if all(float(t).is_integer() for t in ticks):
        return [str(int(t)) for t in ticks]
    return [f"{t:.1f}" for t in ticks]


for idx, gene in enumerate(GENES):
    r, c = divmod(idx, 6)
    l, t = C_COL_LEFT[c], C_ROW_TOP[r]
    ax = px_axes(l, t, l + C_W, t + C_H)
    ax.set_xlim(0.4, 2.6)
    ax.set_ylim(*Y_RANGE[idx])
    stats = []
    for box in (NORMAL_BOX[idx], TUMOR_BOX[idx]):
        lo, q1, med, q3, hi = box
        stats.append(dict(whislo=lo, q1=q1, med=med, q3=q3, whishi=hi, fliers=[]))
    bp = ax.bxp(stats, positions=[1, 2], widths=0.72, showcaps=False,
                showfliers=False, patch_artist=True)
    for j, (ec, mc) in enumerate([(N_EDGE, N_MED), (T_EDGE, T_MED)]):
        bp['boxes'][j].set(facecolor='none', edgecolor=ec, linewidth=0.85)
        bp['medians'][j].set(color=mc, linewidth=0.95)
        for w in bp['whiskers'][2 * j:2 * j + 2]:
            w.set(color=ec, linewidth=0.85)
    for j, (pts, col) in enumerate([(NORMAL_PTS[idx], N_PT), (TUMOR_PTS[idx], T_PT)]):
        ax.scatter(jitter(len(pts), j + 1, 2 * idx + j), pts, s=2.4, color=col,
                   linewidths=0, zorder=3)
    for s in ('top', 'right'):
        ax.spines[s].set_visible(False)
    for s in ('left', 'bottom'):
        ax.spines[s].set_color('#444444')
        ax.spines[s].set_linewidth(0.6)
    ax.set_xticks([1, 2])
    ax.set_xticklabels(GROUPS, fontsize=7.2)
    ax.tick_params(axis='x', length=2, width=0.5, pad=1.2, color='#444444')
    ax.set_yticks(Y_TICKS[idx])
    ax.set_yticklabels(tick_text(Y_TICKS[idx]))
    ax.tick_params(axis='y', length=1.5, width=0.5, labelsize=3.4, pad=1,
                   color='#444444', labelcolor='#333333')
    ax.set_ylabel(gene + ' expression', fontsize=6, labelpad=1.5)
    # comparison bracket and p-value
    tr = blended_transform_factory(ax.transData, ax.transAxes)
    ax.plot([1, 1, 2, 2], [0.945, 0.975, 0.975, 0.945], transform=tr,
            color='#777777', lw=0.5, clip_on=False)
    ax.text(1.5, 0.885, P_LABELS[idx], transform=tr, ha='center', va='center',
            fontsize=8 if gene == 'IRX1' else 4.6, color='#222222')
    # legend
    ly = 1 + 9 / C_H
    ax.text(5 / C_W, ly, 'Normal', transform=ax.transAxes, ha='left', va='center',
            fontsize=6.5)
    ax.text(64 / C_W, ly, 'Tumor', transform=ax.transAxes, ha='left', va='center',
            fontsize=8)
    for kx, ec, pc in [(39 / C_W, N_EDGE, N_PT), (60 / C_W, T_EDGE, T_PT)]:
        ax.plot([kx], [ly], marker='s', ms=3.6, mfc='none', mec=ec, mew=0.6,
                transform=ax.transAxes, clip_on=False)
        ax.plot([kx], [ly], marker='+', ms=2.4, color=pc, mew=0.5,
                transform=ax.transAxes, clip_on=False)

fig.savefig('out.png', dpi=100, facecolor='white')
